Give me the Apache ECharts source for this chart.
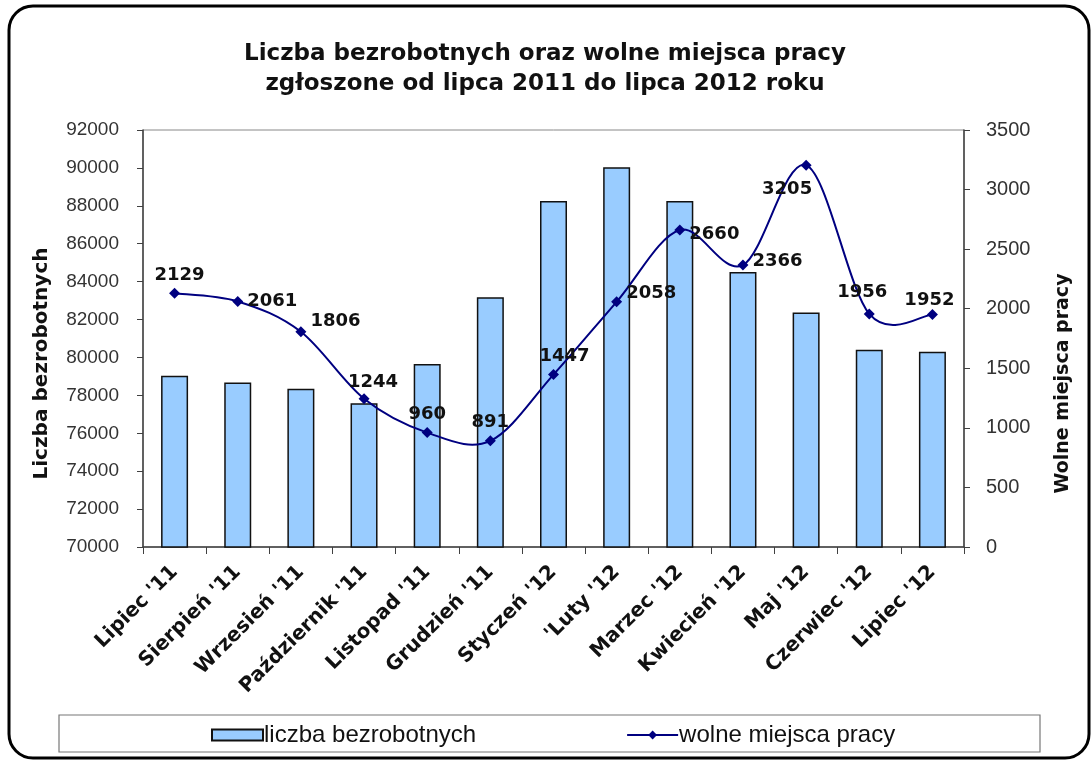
<!DOCTYPE html>
<html>
<head>
<meta charset="utf-8">
<script src="https://cdn.jsdelivr.net/npm/echarts@6/dist/echarts.min.js"></script>
<style>
html,body{margin:0;padding:0;background:#fff;}
#c{width:1092px;height:760px;}
</style>
</head>
<body>
<div id="c"></div>
<script>
var categories = ["Lipiec '11","Sierpień '11","Wrzesień '11","Październik '11","Listopad '11","Grudzień '11","Styczeń '12","'Luty '12","Marzec '12","Kwiecień '12","Maj '12","Czerwiec '12","Lipiec '12"];
var unemployed = [79030, 78680, 78350, 77590, 79650, 83180, 88250, 90030, 88250, 84510, 82370, 80400, 80300];
var vacancies = [2129, 2061, 1806, 1244, 960, 891, 1447, 2058, 2660, 2366, 3205, 1956, 1952];
var leftTicks = {min: 70000, max: 92000, interval: 2000};
var rightTicks = {min: 0, max: 3500, interval: 500};

// label placement (style only)
var labelPlacement = [
  ['top',[5,0]],['right',[0,0]],['right',[0,-10]],['top',[9,2]],['top',[0,0]],['top',[0,0]],
  ['top',[11,0]],['right',[0,-8]],['right',[0,4]],['right',[0,-4]],['bottom',[-19,6]],['top',[-7,-3]],['top',[-3,4]]
];

var lineData = vacancies.map(function(v,i){
  return {value: v, label: {position: labelPlacement[i][0], offset: labelPlacement[i][1]}};
});

// Excel-like smoothed line: one bezier segment per interval, built from axis coordinates
function renderSmoothSegment(params, api) {
  var i = params.dataIndex;
  var n = vacancies.length;
  if (i >= n - 1) return null;
  function pt(k) {
    k = Math.max(0, Math.min(n - 1, k));
    return api.coord([k, vacancies[k]]);
  }
  var p0 = pt(i - 1), p1 = pt(i), p2 = pt(i + 1), p3 = pt(i + 2);
  var t = 1 / 6;
  var c1 = [p1[0] + (p2[0] - p0[0]) * t, p1[1] + (p2[1] - p0[1]) * t];
  var c2 = [p2[0] - (p3[0] - p1[0]) * t, p2[1] - (p3[1] - p1[1]) * t];
  return {
    type: 'bezierCurve',
    shape: {x1: p1[0], y1: p1[1], x2: p2[0], y2: p2[1], cpx1: c1[0], cpy1: c1[1], cpx2: c2[0], cpy2: c2[1]},
    style: {stroke: '#000080', lineWidth: 2, fill: null}
  };
}

var chart = echarts.init(document.getElementById('c'), null, {renderer:'canvas'});
var axisColor = '#404040';
chart.setOption({
  backgroundColor: '#ffffff',
  animation: false,
  title: {
    text: 'Liczba bezrobotnych oraz wolne miejsca pracy\nzgłoszone od lipca 2011 do lipca 2012 roku',
    left: 540, top: 34, textAlign: 'center',
    textStyle: {fontFamily: 'DejaVu Sans', fontWeight: 'bold', fontSize: 23, lineHeight: 30, color: '#111'}
  },
  legend: {
    left: 211, top: 723, padding: 0, itemGap: 150,
    itemWidth: 51, itemHeight: 11,
    textStyle: {fontFamily: 'Liberation Sans, Arial', fontSize: 24, color: '#111', padding: [0,0,0,-4]},
    data: [
      {name: 'liczba bezrobotnych', icon: 'rect'},
      {name: 'wolne miejsca pracy', lineStyle: {width: 2, color: '#000080', opacity: 1}}
    ]
  },
  grid: {left: 143, right: 128, top: 130, bottom: 213, show: true, borderColor: '#888', borderWidth: 1},
  xAxis: {
    type: 'category', data: categories,
    axisLine: {lineStyle: {color: axisColor, width: 1.5}},
    axisTick: {show: true, length: 7, lineStyle: {color: axisColor}},
    axisLabel: {rotate: 45, margin: 22, interval: 0, fontFamily: 'DejaVu Sans', fontWeight: 'bold', fontSize: 20, color: '#111'}
  },
  yAxis: [{
    type: 'value', position: 'left', min: leftTicks.min, max: leftTicks.max, interval: leftTicks.interval,
    name: 'Liczba bezrobotnych', nameLocation: 'middle', nameRotate: 90, nameGap: 91,
    nameTextStyle: {fontFamily: 'DejaVu Sans', fontWeight: 'bold', fontSize: 20, color: '#111', padding: [0, 50, 0, 0]},
    axisLine: {show: true, lineStyle: {color: axisColor, width: 1.5}},
    axisTick: {show: true, length: 6, lineStyle: {color: axisColor}},
    splitLine: {show: false},
    axisLabel: {fontFamily: 'Liberation Sans, Arial', fontSize: 19, color: '#333', margin: 24, formatter: function(v){return String(v);}}
  },{
    type: 'value', position: 'right', min: rightTicks.min, max: rightTicks.max, interval: rightTicks.interval,
    name: 'Wolne miejsca pracy', nameLocation: 'middle', nameRotate: 90, nameGap: 90,
    nameTextStyle: {fontFamily: 'DejaVu Sans', fontWeight: 'bold', fontSize: 19, color: '#111', padding: [0, 90, 0, 0]},
    axisLine: {show: true, lineStyle: {color: axisColor, width: 1.5}},
    axisTick: {show: true, length: 6, lineStyle: {color: axisColor}},
    splitLine: {show: false},
    axisLabel: {fontFamily: 'Liberation Sans, Arial', fontSize: 20, color: '#333', margin: 22, formatter: function(v){return String(v);}}
  }],
  series: [{
    name: 'liczba bezrobotnych', type: 'bar', yAxisIndex: 0, data: unemployed, barWidth: 27,
    itemStyle: {color: '#99CCFF', borderColor: '#111', borderWidth: 1.5}
  },{
    name: 'wolne miejsca pracy smooth', type: 'custom', yAxisIndex: 1,
    data: vacancies, renderItem: renderSmoothSegment, z: 4, silent: true
  },{
    name: 'wolne miejsca pracy', type: 'line', yAxisIndex: 1, data: lineData,
    symbol: 'diamond', symbolSize: 11,
    lineStyle: {color: '#000080', width: 0, opacity: 0},
    itemStyle: {color: '#000080'},
    label: {show: true, fontFamily: 'DejaVu Sans', fontWeight: 'bold', fontSize: 18, color: '#111', distance: 4},
    z: 5
  }],
  graphic: [
    {type: 'rect', shape: {x: 9, y: 6, width: 1080, height: 752, r: 24}, style: {fill: 'none', stroke: '#000', lineWidth: 3}, z: 100},
    {type: 'rect', shape: {x: 59, y: 715, width: 981, height: 37}, style: {fill: 'none', stroke: '#777', lineWidth: 1.2}, z: 100}
  ]
});
</script>
</body>
</html>
